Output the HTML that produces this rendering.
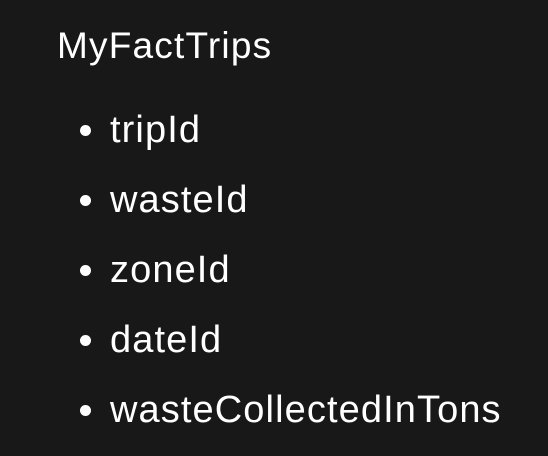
<!DOCTYPE html>
<html><head><style>
html,body{margin:0;padding:0;}
body{width:548px;height:456px;background:#181818;position:relative;overflow:hidden;font-family:"Liberation Sans",sans-serif;color:#fff;}
.t{position:absolute;left:57px;font-size:37px;line-height:40px;white-space:nowrap;letter-spacing:1.2px;}
.i{position:absolute;left:110px;font-size:38px;line-height:40px;white-space:nowrap;letter-spacing:1.1px;}
.b{position:absolute;left:80px;width:11px;height:11px;border-radius:50%;background:#fff;}
</style></head><body>
<div class="t" style="top:26px">MyFactTrips</div>
<div class="b" style="top:125px"></div><div class="i" style="top:110px">tripId</div>
<div class="b" style="top:195px"></div><div class="i" style="top:180px">wasteId</div>
<div class="b" style="top:265px"></div><div class="i" style="top:250px">zoneId</div>
<div class="b" style="top:335px"></div><div class="i" style="top:320px">dateId</div>
<div class="b" style="top:405px"></div><div class="i" style="top:390px">wasteCollectedInTons</div>
</body></html>
